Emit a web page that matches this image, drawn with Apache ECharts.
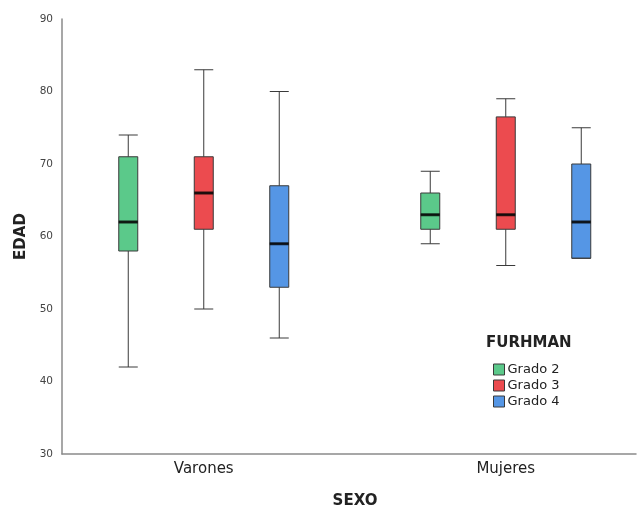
<!DOCTYPE html>
<html>
<head>
<meta charset="utf-8">
<script src="https://cdn.jsdelivr.net/npm/echarts@6/dist/echarts.min.js"></script>
<style>html,body{margin:0;padding:0;background:#fff;}#c{width:638px;height:510px;}</style>
</head>
<body>
<div id="c"></div>
<script>
// ---- data ----
const sexes = ['Varones', 'Mujeres'];
const grades = ['Grado 2', 'Grado 3', 'Grado 4'];
// [min, Q1, median, Q3, max] per sex (Varones, Mujeres)
const grado2 = [[42, 58, 62, 71, 74], [59, 61, 63, 66, 69]];
const grado3 = [[50, 61, 66, 71, 83], [56, 61, 63, 76.5, 79]];
const grado4 = [[46, 53, 59, 67, 80], [57, 57, 62, 70, 75]];
const yTicks = [30, 40, 50, 60, 70, 80, 90];
const colors = ['#5bc98a', '#ec4b4f', '#5596e5'];

const gradeStats = [grado2, grado3, grado4];

// slots: each sex gets one slot per grade, with a spacer between sexes
const slots = [];
sexes.forEach((s, si) => {
  grades.forEach(g => slots.push(s + '|' + g));
  if (si < sexes.length - 1) slots.push('gap' + si);
});
const midGrade = grades[Math.floor(grades.length / 2)];

const chart = echarts.init(document.getElementById('c'), null, {renderer: 'canvas'});
const font = 'DejaVu Sans';

const dataGrid = {left: 90.5, width: 528.5, top: 19, bottom: 56, outerBoundsMode: 'none', containLabel: false};
const grids = [{left: 62, right: 2, top: 19, bottom: 56, outerBoundsMode: 'none', containLabel: false}];
const xAxes = [{
  gridIndex: 0, type: 'value', min: 0, max: 1,
  axisLine: {show: true, lineStyle: {color: '#8a8a8a', width: 1.5}},
  axisTick: {show: false}, axisLabel: {show: false}, splitLine: {show: false},
  name: 'SEXO', nameLocation: 'middle', nameGap: 40,
  nameTextStyle: {fontFamily: font, fontSize: 15, fontWeight: 'bold', color: '#222', padding: [0, 0, 0, 12]}
}];
const yAxes = [{
  gridIndex: 0, type: 'value', min: yTicks[0], max: yTicks[yTicks.length - 1], interval: 10,
  axisLine: {show: true, lineStyle: {color: '#8a8a8a', width: 1.5}},
  axisTick: {show: false}, splitLine: {show: false},
  axisLabel: {fontFamily: font, fontSize: 10.5, color: '#444', margin: 9},
  name: 'EDAD', nameLocation: 'middle', nameGap: 28,
  nameTextStyle: {fontFamily: font, fontSize: 15, fontWeight: 'bold', color: '#222'}
}];
const series = [];

grades.forEach((g, gi) => {
  const idx = gi + 1;
  grids.push(Object.assign({}, dataGrid));
  xAxes.push({
    gridIndex: idx, type: 'category', data: slots, boundaryGap: true,
    show: gi === 0,
    axisLine: {show: false}, axisTick: {show: false}, splitLine: {show: false},
    axisLabel: {
      interval: 0, margin: 8, fontFamily: font, fontSize: 15, color: '#222',
      formatter: v => {
        const p = v.split('|');
        return p[1] === midGrade ? p[0] : '';
      }
    }
  });
  yAxes.push({gridIndex: idx, type: 'value', min: yTicks[0], max: yTicks[yTicks.length - 1], show: false, splitLine: {show: false}});
  const stats = gradeStats[gi];
  series.push({
    name: g, type: 'boxplot', xAxisIndex: idx, yAxisIndex: idx,
    boxWidth: [19, 19],
    encode: {x: 0, y: [1, 2, 3, 4, 5]},
    itemStyle: {color: colors[gi], borderColor: '#3a3a3a', borderWidth: 1},
    emphasis: {disabled: true},
    data: sexes.map((s, si) => [s + '|' + g].concat(stats[si]))
  });
  series.push({
    name: g + ' mediana', type: 'scatter', xAxisIndex: idx, yAxisIndex: idx,
    symbol: 'rect', symbolSize: [19, 3], z: 5,
    itemStyle: {color: '#000'}, silent: true,
    data: sexes.map((s, si) => [s + '|' + g, stats[si][2]])
  });
});

chart.setOption({
  backgroundColor: '#fff',
  animation: false,
  color: colors,
  grid: grids,
  xAxis: xAxes,
  yAxis: yAxes,
  legend: {
    data: grades.map(g => ({name: g, itemStyle: {color: colors[grades.indexOf(g)], borderColor: '#3a3a3a', borderWidth: 1}})),
    orient: 'vertical', left: 488, top: 358,
    itemWidth: 11, itemHeight: 11, itemGap: 3,
    icon: 'rect',
    textStyle: {fontFamily: font, fontSize: 13, lineHeight: 13, color: '#222', padding: [0, 0, 0, -2]}
  },
  graphic: [{
    type: 'text', left: 486, top: 336,
    style: {text: 'FURHMAN', font: 'bold 15px "DejaVu Sans"', fill: '#222'}
  }],
  series: series
});
</script>
</body>
</html>
